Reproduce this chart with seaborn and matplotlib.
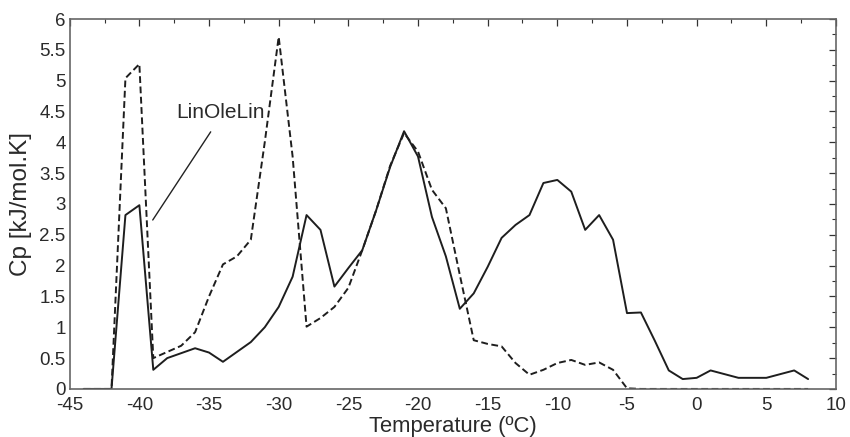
import numpy as np
import pandas as pd
import matplotlib
matplotlib.use("Agg")
import matplotlib.pyplot as plt
from matplotlib.ticker import MultipleLocator
import seaborn as sns

temps = list(range(-44, 9))
solid = [0, 0, 0, 2.82, 2.98, 0.31, 0.50, 0.58, 0.66, 0.59, 0.44, 0.60, 0.76, 1.00, 1.33,
         1.82, 2.82, 2.58, 1.66, 1.96, 2.25, 2.90, 3.60, 4.18, 3.77, 2.79, 2.15, 1.30, 1.55,
         1.98, 2.45, 2.66, 2.82, 3.34, 3.39, 3.20, 2.58, 2.82, 2.42, 1.23, 1.24, 0.78, 0.30,
         0.16, 0.18, 0.30, 0.24, 0.18, 0.18, 0.18, 0.24, 0.30, 0.16]
dashed = [0, 0, 0, 5.04, 5.27, 0.50, 0.60, 0.70, 0.92, 1.50, 2.02, 2.15, 2.42, 4.00, 5.71,
          3.77, 1.01, 1.15, 1.33, 1.64, 2.25, 2.90, 3.62, 4.15, 3.85, 3.23, 2.93, 1.85, 0.79,
          0.73, 0.69, 0.42, 0.23, 0.31, 0.42, 0.47, 0.39, 0.43, 0.31, 0.01, 0, 0, 0,
          0, 0, 0, 0, 0, 0, 0, 0, 0, 0]
series_names = ["solid", "dashed"]
annotation_text = "LinOleLin"
annotation_text_pos = (-34.2, 4.49)
annotation_line = [(-34.88, 4.17), (-39.04, 2.74)]
x_label = "Temperature (ºC)"
y_label = "Cp [kJ/mol.K]"

df = pd.DataFrame({
    "T": temps * 2,
    "Cp": solid + dashed,
    "series": ["solid"] * len(temps) + ["dashed"] * len(temps),
})

sns.set_style("white")
plt.rcParams["font.family"] = ["Liberation Sans", "DejaVu Sans"]

fig = plt.figure(figsize=(8.5, 4.37), dpi=100)
ax = fig.add_axes([0.082, 0.110, 0.9015, 0.8465])

sns.lineplot(data=df, x="T", y="Cp", style="series", style_order=series_names,
             dashes={"solid": "", "dashed": (3.5, 1.8)}, color="#1e1e1e",
             linewidth=1.4, legend=False, ax=ax)

ax.set_xlim(-45, 10)
ax.set_ylim(0, 6)
ax.xaxis.set_major_locator(MultipleLocator(5))
ax.xaxis.set_minor_locator(MultipleLocator(2.5))
ax.yaxis.set_major_locator(MultipleLocator(0.5))
ax.yaxis.set_minor_locator(MultipleLocator(0.25))
ax.yaxis.set_major_formatter(plt.FuncFormatter(lambda v, p: f"{v:g}"))
ax.xaxis.set_major_formatter(plt.FuncFormatter(lambda v, p: f"{v:g}"))
ax.tick_params(which="both", direction="in", top=True, right=True,
               colors="#333333", labelcolor="#2a2a2a")
ax.tick_params(which="major", length=5, width=0.9, labelsize=13.5)
ax.tick_params(axis="x", which="major", pad=5.5)
ax.tick_params(axis="y", which="major", pad=3)
ax.tick_params(which="minor", length=3, width=0.8)
for s in ax.spines.values():
    s.set_color("#666666")
    s.set_linewidth(1.2)

ax.set_xlabel(x_label, fontsize=15.8, color="#2a2a2a")
ax.set_ylabel(y_label, fontsize=17.5, color="#2a2a2a")
ax.xaxis.set_label_coords(0.5, -0.072)
ax.yaxis.set_label_coords(-0.049, 0.5)

ax.text(annotation_text_pos[0], annotation_text_pos[1], annotation_text,
        fontsize=15, color="#2a2a2a", ha="center", va="center")
ax.annotate("", xy=annotation_line[1], xytext=annotation_line[0],
            arrowprops=dict(arrowstyle="-", color="#222222", lw=1.0,
                            shrinkA=0, shrinkB=0))

fig.savefig("out.png", dpi=100)
